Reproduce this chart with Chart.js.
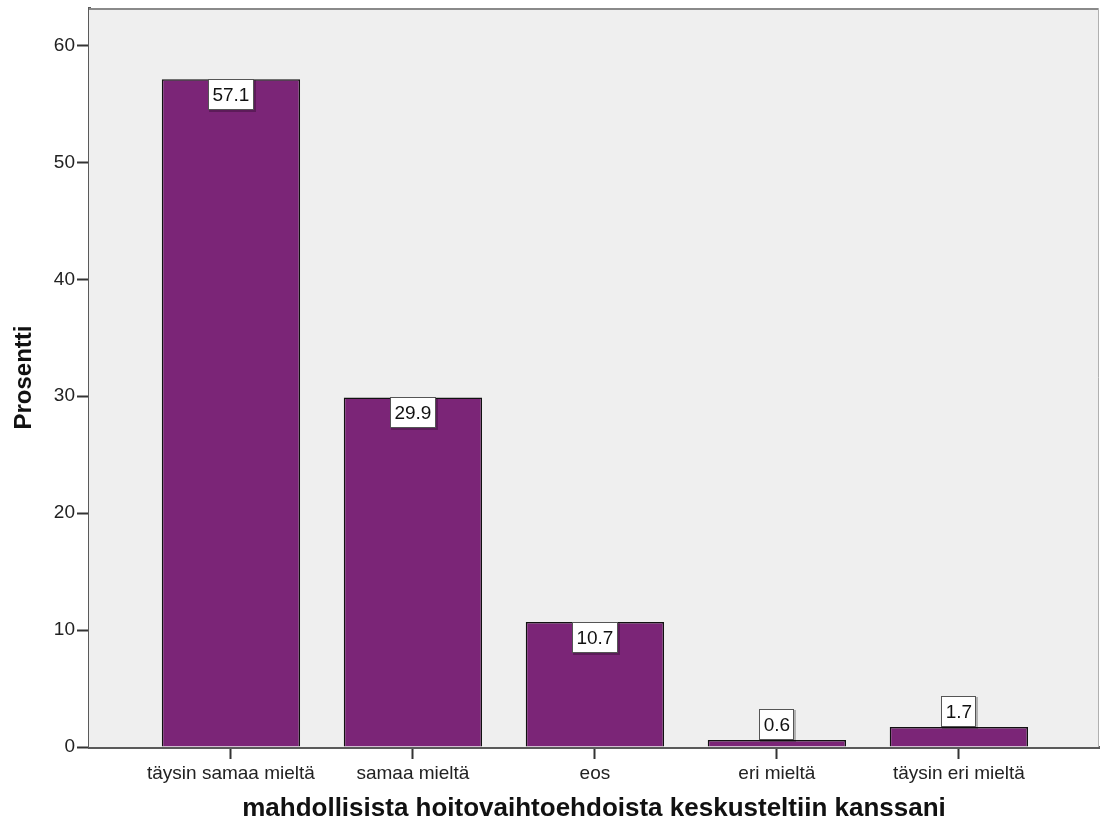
<!DOCTYPE html>
<html>
<head>
<meta charset="utf-8">
<script src="https://cdn.jsdelivr.net/npm/chart.js@4.4.1/dist/chart.umd.min.js"></script>
<style>
  html, body { margin: 0; padding: 0; background: #fff; }
  #wrap { width: 1100px; height: 827px; }
</style>
</head>
<body>
<div id="wrap"><canvas id="chart" width="1100" height="827"></canvas></div>
<script>
// Vastausten jakauma (%)
const categories = ['täysin samaa mieltä', 'samaa mieltä', 'eos', 'eri mieltä', 'täysin eri mieltä'];
const percents = [57.1, 29.9, 10.7, 0.6, 1.7];
const yTicks = [0, 10, 20, 30, 40, 50, 60];

const FONT = '"Liberation Sans", Arial, sans-serif';

// plot background + frame
const plotFrame = {
    id: 'plotFrame',
    beforeDatasetsDraw(chart) {
        const { ctx, chartArea: a } = chart;
        ctx.save();
        ctx.fillStyle = '#efefef';
        ctx.fillRect(a.left, a.top, a.right - a.left, a.bottom - a.top);
        ctx.strokeStyle = '#8a8a8a';
        ctx.lineWidth = 2;
        ctx.beginPath();
        ctx.moveTo(a.left, a.top + 1);
        ctx.lineTo(a.right, a.top + 1);
        ctx.stroke();
        ctx.strokeStyle = '#b0b0b0';
        ctx.lineWidth = 1;
        ctx.beginPath();
        ctx.moveTo(a.right - 0.5, a.top);
        ctx.lineTo(a.right - 0.5, a.bottom);
        ctx.stroke();
        ctx.restore();
    }
};

// value boxes on the bars
const valueBoxes = {
    id: 'valueBoxes',
    afterDatasetsDraw(chart) {
        const { ctx } = chart;
        const meta = chart.getDatasetMeta(0);
        const h = 31;
        ctx.save();
        ctx.font = '19px ' + FONT;
        ctx.textAlign = 'center';
        ctx.textBaseline = 'middle';
        meta.data.forEach((bar, i) => {
            const txt = percents[i].toFixed(1);
            const w = Math.round(ctx.measureText(txt).width) + 9;
            const barH = bar.base - bar.y;
            const top = barH > h + 2 ? Math.round(bar.y) : Math.round(bar.y) - h;
            const left = Math.round(bar.x - w / 2);
            ctx.fillStyle = 'rgba(0,0,0,0.25)';
            ctx.fillRect(left + 1, top + 1, w + 1, h + 1);
            ctx.fillStyle = '#ffffff';
            ctx.fillRect(left, top, w, h);
            ctx.strokeStyle = '#555';
            ctx.lineWidth = 1;
            ctx.strokeRect(left + 0.5, top + 0.5, w - 1, h - 1);
            ctx.fillStyle = '#111';
            ctx.fillText(txt, bar.x, top + h / 2 + 1);
        });
        ctx.restore();
    }
};

new Chart(document.getElementById('chart'), {
    type: 'bar',
    data: {
        datasets: [{
            data: percents.map((v, i) => ({ x: i, y: v })),
            backgroundColor: '#7b2577',
            borderColor: '#111',
            borderWidth: 1.5,
            barPercentage: 0.76,
            categoryPercentage: 1
        }]
    },
    options: {
        responsive: false,
        animation: false,
        layout: { padding: { top: 8, right: 1 } },
        plugins: {
            legend: { display: false },
            tooltip: { enabled: false }
        },
        scales: {
            x: {
                type: 'linear',
                offset: false,
                min: -0.78,
                max: 4.77,
                afterBuildTicks: s => { s.ticks = categories.map((_, i) => ({ value: i })); },
                afterFit: s => { s.height = 80; },
                ticks: {
                    callback: v => categories[v],
                    color: '#222',
                    font: { family: FONT, size: 19 },
                    padding: 3,
                    maxRotation: 0
                },
                grid: { offset: false, drawOnChartArea: false, tickLength: 12, color: '#333', tickWidth: 2 },
                border: { color: '#5a5a5a', width: 3 },
                title: {
                    display: true,
                    text: 'mahdollisista hoitovaihtoehdoista keskusteltiin kanssani',
                    color: '#111',
                    font: { family: FONT, size: 26, weight: 'bold' },
                    padding: { top: 10, bottom: 3 }
                }
            },
            y: {
                min: 0,
                max: 63.2,
                afterBuildTicks: s => { s.ticks = yTicks.map(v => ({ value: v })); },
                // no label sits at the top edge, so no extra room is needed there
                afterFit: s => { s.width = 89; s.paddingTop = 0; },
                ticks: {
                    color: '#222',
                    font: { family: FONT, size: 19 },
                    padding: 2
                },
                grid: { drawOnChartArea: false, tickLength: 12, color: '#333', tickWidth: 2 },
                border: { color: '#5a5a5a', width: 3 },
                title: {
                    display: true,
                    text: 'Prosentti',
                    color: '#111',
                    font: { family: FONT, size: 24, weight: 'bold' },
                    padding: { top: 10, bottom: 0 }
                }
            }
        }
    },
    plugins: [plotFrame, valueBoxes]
});
</script>
</body>
</html>
